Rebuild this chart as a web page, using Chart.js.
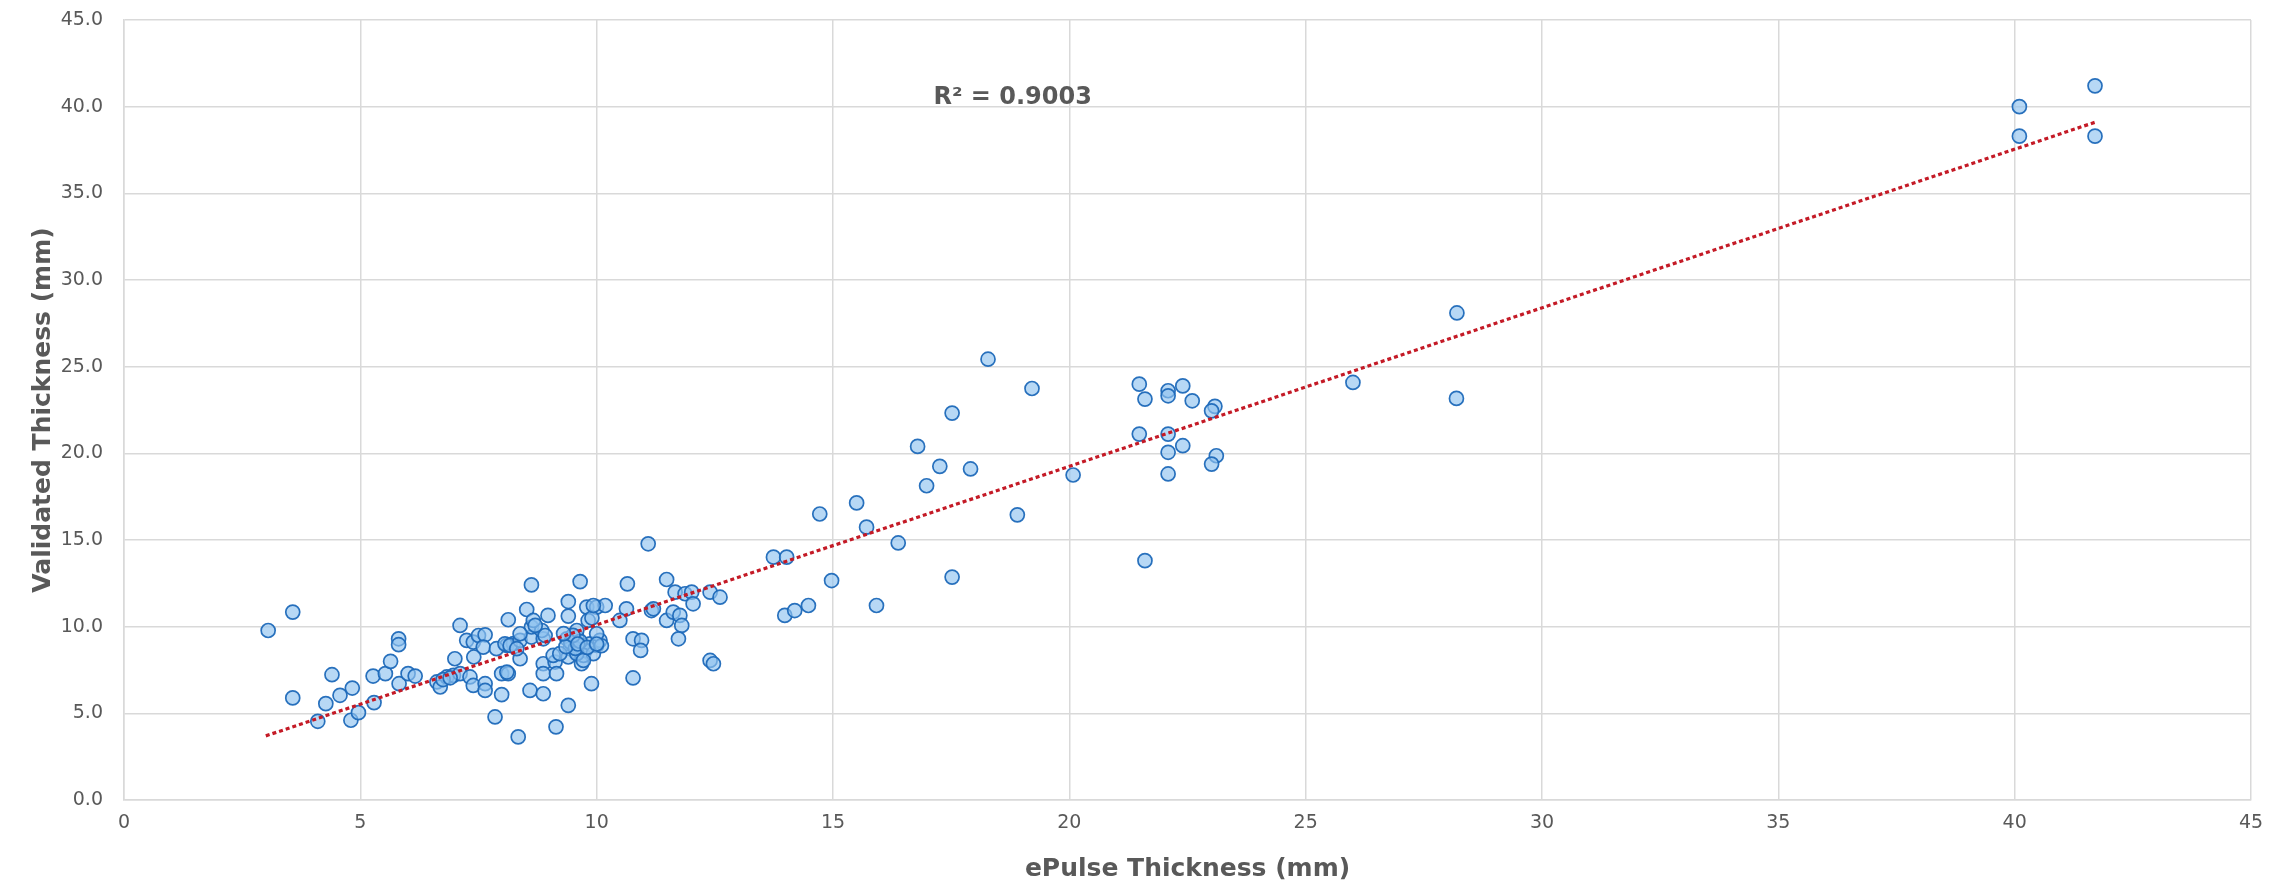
<!DOCTYPE html>
<html>
<head>
<meta charset="utf-8">
<script src="https://cdn.jsdelivr.net/npm/chart.js@4.4.1/dist/chart.umd.min.js"></script>
<style>
  html, body { margin: 0; padding: 0; background: #ffffff; }
  #wrap { width: 2285px; height: 888px; position: relative; }
</style>
</head>
<body>
<div id="wrap"><canvas id="scatter-chart"></canvas></div>
<script>
// ePulse thickness (x) vs validated thickness (y), mm
const ePulse = [
  3.05, 3.57, 3.57, 4.40, 4.10, 4.27, 4.57, 4.83, 4.80, 4.96,
  5.29, 5.27, 5.53, 5.64, 5.81, 5.81, 5.82, 6.01, 6.16, 6.62,
  6.69, 6.83, 6.97, 7.11, 7.00, 7.11, 7.32, 7.25, 7.39, 7.50,
  7.64, 7.60, 7.39, 7.64, 7.64, 7.40, 7.85, 7.99, 7.99, 8.13,
  8.13, 8.10, 8.24, 7.88, 8.34, 8.62, 9.65, 10.65, 11.48, 8.52,
  9.40, 9.40, 9.79, 10.00, 10.18, 10.63, 10.49, 11.16, 11.66, 11.87,
  12.01, 12.04, 12.40, 12.61, 11.48, 11.62, 11.76, 11.80, 11.73, 13.98,
  14.19, 14.48, 10.77, 10.95, 10.93, 12.40, 12.47, 10.77, 9.89, 9.40,
  9.14, 8.59, 8.87, 8.87, 9.12, 8.87, 9.15, 9.68, 9.37, 9.47,
  9.58, 9.68, 9.86, 10.00, 10.07, 9.44, 9.58, 9.75, 10.00, 8.06,
  8.17, 8.38, 8.62, 8.87, 8.10, 8.38, 9.08, 9.40, 9.72, 8.62,
  8.84, 9.58, 9.82, 8.66, 8.97, 14.72, 15.50, 15.71, 11.09, 13.74,
  14.02, 14.97, 15.92, 18.28, 19.21, 17.52, 16.79, 17.26, 17.91, 16.98,
  20.08, 18.90, 16.38, 17.52, 21.48, 21.60, 22.09, 22.09, 22.40, 22.60,
  23.08, 23.01, 21.48, 22.09, 22.09, 22.40, 22.09, 23.11, 23.01, 21.60,
  26.00, 28.19, 28.20, 40.10, 40.10, 41.70, 41.70, 9.90, 8.38, 8.31,
  8.91, 9.22, 9.58, 9.93, 9.72, 8.70, 9.93, 11.20, 9.45, 9.55,
  9.65, 9.35, 9.50, 9.60, 9.80, 10.10, 9.30, 10.00, 6.75, 6.90
];
const validated = [
  9.78, 10.84, 5.89, 7.23, 4.54, 5.56, 6.04, 6.46, 4.60, 5.04,
  5.62, 7.15, 7.29, 8.00, 9.30, 8.96, 6.71, 7.29, 7.15, 6.81,
  6.52, 7.10, 7.19, 7.29, 8.15, 10.07, 7.10, 9.21, 9.11, 9.49,
  9.53, 8.82, 6.61, 6.71, 6.32, 8.25, 4.79, 6.08, 7.29, 7.29,
  10.40, 8.92, 9.02, 8.73, 3.64, 12.41, 12.60, 12.47, 12.72, 10.99,
  11.45, 10.61, 11.13, 11.13, 11.22, 11.03, 10.36, 10.93, 11.99, 11.90,
  11.99, 11.32, 11.99, 11.70, 10.36, 10.84, 10.65, 10.07, 9.30, 10.65,
  10.93, 11.22, 9.30, 9.21, 8.63, 8.05, 7.86, 7.04, 6.71, 5.46,
  4.22, 6.32, 6.13, 7.86, 7.96, 7.29, 7.29, 7.86, 9.30, 9.01,
  9.40, 8.92, 9.01, 8.92, 9.21, 8.73, 8.54, 8.63, 9.59, 9.01,
  8.92, 9.21, 9.40, 9.30, 7.38, 8.15, 8.34, 8.25, 8.34, 9.98,
  9.78, 9.78, 10.36, 10.36, 10.65, 16.50, 17.14, 15.74, 14.78, 14.01,
  14.01, 12.66, 11.22, 25.43, 23.74, 22.32, 20.40, 19.25, 19.10, 18.13,
  18.75, 16.45, 14.83, 12.86, 23.99, 23.13, 23.61, 23.32, 23.89, 23.03,
  22.71, 22.45, 21.11, 21.11, 20.06, 20.44, 18.81, 19.86, 19.38, 13.81,
  24.09, 23.17, 28.10, 40.00, 38.30, 41.20, 38.30, 10.50, 9.59, 8.73,
  9.49, 8.44, 8.44, 8.44, 8.05, 10.07, 11.22, 11.03, 9.10, 8.75,
  9.15, 8.85, 9.50, 9.00, 8.80, 8.90, 9.60, 9.00, 6.95, 7.05
];

// linear trendline ends
const trendX = [3.0, 41.7];
const trendY = [3.7, 39.1];
const rSquaredText = "R\u00b2 = 0.9003";

const xTickLabels = ["0", "5", "10", "15", "20", "25", "30", "35", "40", "45"];
const yTickLabels = ["0.0", "5.0", "10.0", "15.0", "20.0", "25.0", "30.0", "35.0", "40.0", "45.0"];

const scatterPoints = ePulse.map((x, i) => ({ x: x, y: validated[i] }));
const trendPoints = trendX.map((x, i) => ({ x: x, y: trendY[i] }));

const textGrey = "#595959";
const gridGrey = "#d9d9d9";

// R² label drawn in data coordinates
const rSquaredLabel = {
  id: "rSquaredLabel",
  afterDatasetsDraw(chart) {
    const ctx = chart.ctx;
    const px = chart.scales.x.getPixelForValue(18.8);
    const py = chart.scales.y.getPixelForValue(40.5);
    ctx.save();
    ctx.font = "bold 24px 'DejaVu Sans'";
    ctx.fillStyle = textGrey;
    ctx.textAlign = "center";
    ctx.textBaseline = "middle";
    ctx.fillText(rSquaredText, px, py);
    ctx.restore();
  },
};

const scatter_config = {
  type: "scatter",
  data: {
    datasets: [
      {
        label: "Trendline",
        data: trendPoints,
        showLine: true,
        borderColor: "#c41a26",
        borderWidth: 3.2,
        borderDash: [4, 3],
        pointRadius: 0,
        fill: false,
        order: 0,
      },
      {
        label: "Thickness",
        data: scatterPoints,
        backgroundColor: "rgba(145, 195, 240, 0.65)",
        borderColor: "rgba(30, 105, 185, 0.95)",
        borderWidth: 1.7,
        pointRadius: 7,
        order: 1,
      },
    ],
  },
  options: {
    responsive: true,
    maintainAspectRatio: false,
    animation: false,
    layout: { padding: { top: 20, right: 34, bottom: 2, left: 0 } },
    plugins: {
      legend: { display: false },
      tooltip: { enabled: false },
    },
    scales: {
      x: {
        type: "linear",
        min: 0,
        max: 45,
        afterBuildTicks: (scale) => {
          scale.ticks = xTickLabels.map((t) => ({ value: Number(t) }));
        },
        afterFit: (scale) => {
          scale.height = 86;
          scale.paddingLeft = 0;
          scale.paddingRight = 0;
        },
        ticks: {
          color: textGrey,
          font: { family: "DejaVu Sans", size: 19 },
          padding: 12,
          maxRotation: 0,
          callback: (v, i) => xTickLabels[i],
        },
        grid: { color: gridGrey, lineWidth: 1.5, drawTicks: false },
        border: { color: gridGrey, width: 1.5 },
        title: {
          display: true,
          text: "ePulse Thickness (mm)",
          color: textGrey,
          font: { family: "DejaVu Sans", size: 25, weight: "bold" },
          padding: { top: 0, bottom: 2 },
        },
      },
      y: {
        type: "linear",
        min: 0,
        max: 45,
        afterBuildTicks: (scale) => {
          scale.ticks = yTickLabels.map((t) => ({ value: Number(t) }));
        },
        afterFit: (scale) => {
          scale.width = 124;
          scale.paddingTop = 0;
          scale.paddingBottom = 0;
        },
        ticks: {
          color: textGrey,
          font: { family: "DejaVu Sans", size: 19 },
          padding: 21,
          callback: (v, i) => yTickLabels[i],
        },
        grid: { color: gridGrey, lineWidth: 1.5, drawTicks: false },
        border: { color: gridGrey, width: 1.5 },
        title: {
          display: true,
          text: "Validated Thickness (mm)",
          color: textGrey,
          font: { family: "DejaVu Sans", size: 25, weight: "bold" },
          padding: { top: 28, bottom: 0 },
        },
      },
    },
  },
  plugins: [rSquaredLabel],
};

function initializeScatterChart(canvasID) {
  const ctx = document.getElementById(canvasID).getContext("2d");
  return new Chart(ctx, scatter_config);
}

initializeScatterChart("scatter-chart");
</script>
</body>
</html>
